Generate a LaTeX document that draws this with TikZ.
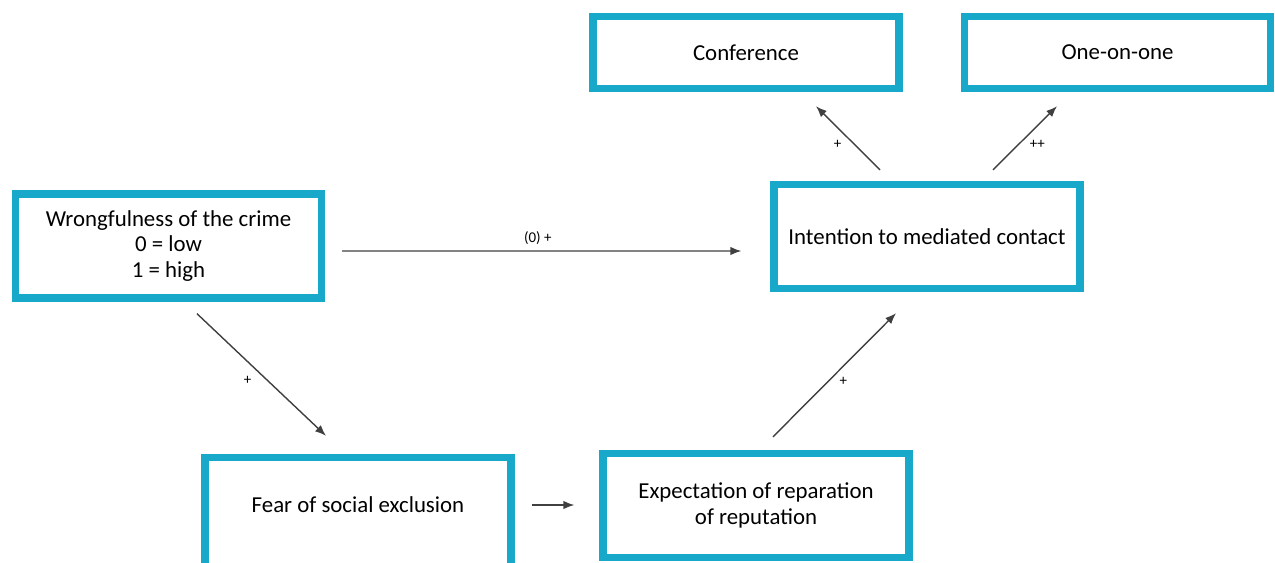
\documentclass[tikz,border=0pt]{standalone}
\usepackage{fontspec}
\setmainfont{Carlito}
\usepackage{xcolor}
\usepackage{tikz}
\usetikzlibrary{positioning, arrows.meta, calc}

\definecolor{boxblue}{RGB}{24,168,201}

\begin{document}
\begin{tikzpicture}[
    x=0.02cm, y=-0.02cm,
    box/.style={draw=boxblue, line width=4.2pt, fill=white, minimum width=6.12cm, minimum height=2.08cm, align=center, font=\fontsize{13}{14.5}\selectfont},
    smallbox/.style={box, minimum height=1.44cm},
    arr/.style={-{Latex[length=2.2mm, width=1.7mm]}, line width=0.8pt, draw=black!75},
    lbl/.style={font=\fontsize{8.5}{10}\selectfont, inner sep=1pt}
]
\useasboundingbox (0,0) rectangle (1275,562);

\node[smallbox] (conf) at (746,52.5) {Conference};
\node[smallbox] (one) at (1117.5,52.5) {One-on-one};
\node[box] (intent) at (927,236.5) {Intention to mediated contact};
\node[box] (wrong) at (168.5,246) {Wrongfulness of the crime\\0 = low\\1 = high};
\node[box, minimum height=2.5cm, text depth=0.6cm] (fear) at (358,520) {Fear of social exclusion};
\node[box] (expect) at (756,505.5) {Expectation of reparation\\of reputation};

\draw[arr] ($(wrong.east)+(17,5)$) -- node[lbl, above=2pt, pos=0.49] {(0) +} ($(intent.west)+(-29,14.5)$);
\draw[arr] ($(wrong.south)+(28.5,12)$) -- node[lbl, left=8pt, pos=0.55] {+} ($(fear.north)+(-32,-18)$);
\draw[arr] ($(fear.east)+(17,-15)$) -- ($(expect.west)+(-25,-0.5)$);
\draw[arr] ($(expect.north)+(17,-13)$) -- node[lbl, right=5pt, pos=0.45] {+} ($(intent.south)+(-31,21)$);
\draw[arr] ($(intent.north)+(-47,-11)$) -- node[lbl, left=6pt, pos=0.4] {+} ($(conf.south)+(70,14)$);
\draw[arr] ($(intent.north)+(66,-11)$) -- node[lbl, right=5pt, pos=0.4] {++} ($(one.south)+(-60.5,14)$);

\end{tikzpicture}
\end{document}
